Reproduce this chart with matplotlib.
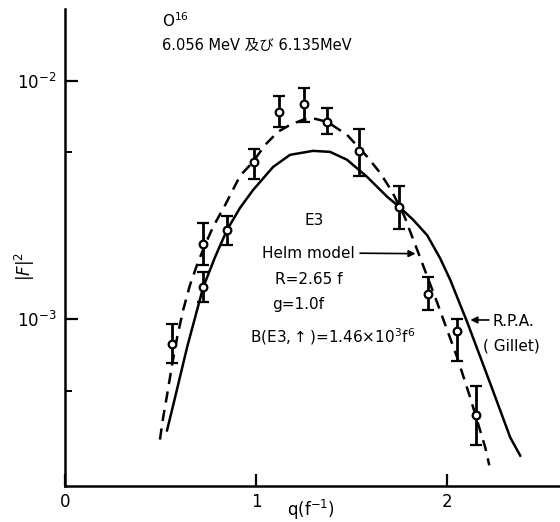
import matplotlib
matplotlib.use("Agg")
import matplotlib.pyplot as plt
from matplotlib.ticker import FixedLocator, NullFormatter

plt.rcParams["font.family"] = ["DejaVu Sans", "Noto Sans CJK JP"]

# measured points, |F|^2 vs q (f^-1)
q_data = [0.56, 0.72, 0.72, 0.85, 0.99, 1.12, 1.25, 1.37, 1.54, 1.75, 1.90, 2.05, 2.15]
f2_data = [7.85e-4, 2.07e-3, 1.36e-3, 2.37e-3, 4.54e-3, 7.36e-3, 8.0e-3,
           6.72e-3, 5.05e-3, 2.96e-3, 1.27e-3, 8.9e-4, 3.98e-4]
f2_hi = [9.53e-4, 2.53e-3, 1.58e-3, 2.71e-3, 5.18e-3, 8.59e-3, 9.34e-3,
         7.70e-3, 6.28e-3, 3.62e-3, 1.50e-3, 1.0e-3, 5.23e-4]
f2_lo = [6.54e-4, 1.69e-3, 1.18e-3, 2.05e-3, 3.87e-3, 6.41e-3, 6.72e-3,
         5.99e-3, 3.99e-3, 2.39e-3, 1.09e-3, 6.67e-4, 2.96e-4]

# Helm model (dashed)
q_helm = [0.497, 0.513, 0.534, 0.560, 0.586, 0.618, 0.654, 0.691, 0.733,
          0.775, 0.838, 0.916, 0.984, 1.047, 1.115, 1.178, 1.246, 1.309,
          1.372, 1.476, 1.581, 1.649, 1.712, 1.775, 1.853, 1.948, 2.052,
          2.120, 2.199, 2.220]
f2_helm = [3.13e-4, 3.84e-4, 4.80e-4, 6.41e-4, 8.32e-4, 1.09e-3, 1.39e-3,
           1.69e-3, 2.05e-3, 2.44e-3, 3.01e-3, 3.99e-3, 4.57e-3, 5.38e-3,
           6.11e-3, 6.53e-3, 6.86e-3, 6.92e-3, 6.72e-3, 5.93e-3, 4.80e-3,
           4.11e-3, 3.42e-3, 2.71e-3, 1.86e-3, 1.17e-3, 6.92e-4, 4.70e-4,
           2.90e-4, 2.44e-4]

# R.P.A. (Gillet) (solid)
q_rpa = [0.534, 0.576, 0.639, 0.723, 0.785, 0.848, 0.916, 0.984, 1.089,
         1.178, 1.298, 1.387, 1.476, 1.581, 1.686, 1.749, 1.822, 1.895,
         1.963, 2.016, 2.105, 2.225, 2.330, 2.382]
f2_rpa = [3.42e-4, 4.70e-4, 7.63e-4, 1.36e-3, 1.82e-3, 2.37e-3, 2.93e-3,
          3.48e-3, 4.35e-3, 4.89e-3, 5.08e-3, 5.03e-3, 4.66e-3, 3.95e-3,
          3.26e-3, 2.96e-3, 2.61e-3, 2.25e-3, 1.80e-3, 1.46e-3, 9.7e-4,
          5.38e-4, 3.19e-4, 2.68e-4]

x_ticks = [0, 1, 2]
y_major = [1e-2, 1e-3]
y_minor = [5e-3, 5e-4]

fig = plt.figure(figsize=(5.6, 5.22), dpi=100)
ax = fig.add_axes([0.116, 0.069, 0.884, 0.914])

ax.plot(q_helm, f2_helm, color="black", lw=1.8, ls=(0, (4.5, 3)))
ax.plot(q_rpa, f2_rpa, color="black", lw=1.8)

err = [[v - lo for v, lo in zip(f2_data, f2_lo)],
       [hi - v for v, hi in zip(f2_data, f2_hi)]]
ax.errorbar(q_data, f2_data, yerr=err, fmt="o", ms=5.5, mfc="white",
            mec="black", mew=1.6, ecolor="black", elinewidth=2,
            capsize=4, capthick=1.8, zorder=5)

ax.set_yscale("log")
ax.set_xlim(0, 2.59)
ax.set_ylim(2e-4, 2e-2)

ax.spines["top"].set_visible(False)
ax.spines["right"].set_visible(False)
ax.spines["left"].set_linewidth(1.8)
ax.spines["bottom"].set_linewidth(1.8)

ax.set_xticks(x_ticks)
ax.set_xticklabels([str(t) for t in x_ticks], fontsize=12)
ax.yaxis.set_major_locator(FixedLocator(y_major))
ax.set_yticklabels([r"$10^{-2}$", r"$10^{-3}$"], fontsize=12)
ax.yaxis.set_minor_locator(FixedLocator(y_minor))
ax.yaxis.set_minor_formatter(NullFormatter())
ax.tick_params(axis="both", which="major", direction="in", length=9,
               width=1.6, pad=6)
ax.tick_params(axis="y", which="minor", direction="in", length=5, width=1.4)
ax.tick_params(axis="x", pad=5)

fig.text(0.045, 0.49, r"$|F|^2$", rotation=90, fontsize=12,
         ha="center", va="center")
fig.text(0.555, 0.023, r"q(f$^{-1}$)", fontsize=12, ha="center", va="center")

fig.text(0.289, 0.960, r"O$^{16}$", fontsize=11, ha="left", va="center")
fig.text(0.289, 0.914, "6.056 MeV 及び 6.135MeV", fontsize=10.5,
         ha="left", va="center")

fig.text(0.561, 0.577, "E3", fontsize=11, ha="center", va="center")
fig.text(0.468, 0.515, "Helm model", fontsize=11, ha="left", va="center")
fig.text(0.491, 0.465, "R=2.65 f", fontsize=11, ha="left", va="center")
fig.text(0.486, 0.416, "g=1.0f", fontsize=11, ha="left", va="center")
fig.text(0.446, 0.356, r"B(E3,$\uparrow$)=1.46$\times$10$^3$f$^6$",
         fontsize=11, ha="left", va="center")
fig.text(0.880, 0.385, "R.P.A.", fontsize=11, ha="left", va="center")
fig.text(0.862, 0.337, "( Gillet)", fontsize=11, ha="left", va="center")

ax.annotate("", xy=(0.747, 0.514), xytext=(0.638, 0.515),
            xycoords="figure fraction",
            arrowprops=dict(arrowstyle="-|>", color="black", lw=1.2,
                            mutation_scale=10))
ax.annotate("", xy=(0.835, 0.387), xytext=(0.878, 0.387),
            xycoords="figure fraction",
            arrowprops=dict(arrowstyle="-|>", color="black", lw=1.2,
                            mutation_scale=10))

fig.savefig("out.png", dpi=100)
